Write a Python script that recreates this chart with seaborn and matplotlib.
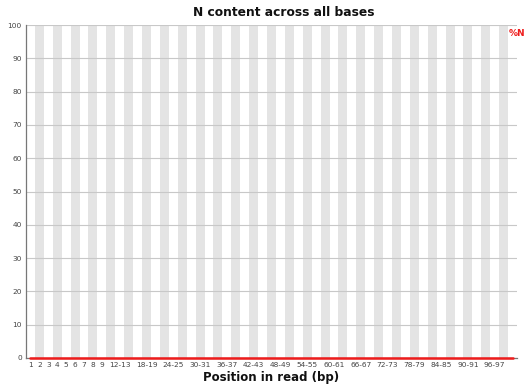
import numpy as np
import pandas as pd
import matplotlib
matplotlib.use("Agg")
import matplotlib.pyplot as plt
import seaborn as sns

sns.set_theme(style="white")
plt.rcParams["font.family"] = ["DejaVu Sans"]

# Read position groups (single bases, then paired bins)
positions = ["1", "2", "3", "4", "5", "6", "7", "8", "9",
             "10-11", "12-13", "14-15", "16-17", "18-19", "20-21", "22-23",
             "24-25", "26-27", "28-29", "30-31", "32-33", "34-35", "36-37",
             "38-39", "40-41", "42-43", "44-45", "46-47", "48-49", "50-51",
             "52-53", "54-55", "56-57", "58-59", "60-61", "62-63", "64-65",
             "66-67", "68-69", "70-71", "72-73", "74-75", "76-77", "78-79",
             "80-81", "82-83", "84-85", "86-87", "88-89", "90-91", "92-93",
             "94-95", "96-97", "98-99", "100-101"]

# Percentage of N calls at each position
n_percent = [0.0, 0.0, 0.0, 0.0, 0.0, 0.0, 0.0, 0.0, 0.0,
             0.0, 0.0, 0.0, 0.0, 0.0, 0.0, 0.0, 0.0, 0.0, 0.0,
             0.0, 0.0, 0.0, 0.0, 0.0, 0.0, 0.0, 0.0, 0.0, 0.0,
             0.0, 0.0, 0.0, 0.0, 0.0, 0.0, 0.0, 0.0, 0.0, 0.0,
             0.0, 0.0, 0.0, 0.0, 0.0, 0.0, 0.0, 0.0, 0.0, 0.0,
             0.0, 0.0, 0.0, 0.0, 0.0, 0.0]

# Positions that get a tick label on the x axis
shown_labels = ["1", "2", "3", "4", "5", "6", "7", "8", "9",
                "12-13", "18-19", "24-25", "30-31", "36-37", "42-43",
                "48-49", "54-55", "60-61", "66-67", "72-73", "78-79",
                "84-85", "90-91", "96-97"]

y_ticks = [0, 10, 20, 30, 40, 50, 60, 70, 80, 90, 100]

df = pd.DataFrame({"position": positions, "n_percent": n_percent})
df["idx"] = np.arange(len(df)) + 0.5

fig = plt.figure(figsize=(5.26, 3.87), dpi=100)
ax = fig.add_axes([26 / 526, 1 - 358 / 387, 491 / 526, 333 / 387])

# Alternating background stripes per position group
for i in range(len(positions)):
    if i % 2 == 1:
        ax.axvspan(i, i + 1, color="#e4e4e4", lw=0, zorder=0)

for t in y_ticks:
    ax.axhline(t, color="#c8c8c8", lw=0.8, zorder=1)

sns.lineplot(data=df, x="idx", y="n_percent", color="#ee1c1c", lw=1.8,
             ax=ax, legend=False)
for ln in ax.get_lines()[-1:]:
    ln.set_clip_on(False)
    ln.set_zorder(5)

ax.set_xlim(0, len(positions))
ax.set_ylim(0, 100)
ax.set_yticks(y_ticks)
ax.set_yticklabels([str(t) for t in y_ticks], fontsize=5.3, color="#444444")
tick_pos = [positions.index(p) + 0.5 for p in shown_labels]
ax.set_xticks(tick_pos)
ax.set_xticklabels(shown_labels, fontsize=5.3, color="#444444")
ax.tick_params(axis="both", length=0, pad=3)

for side in ["top", "right"]:
    ax.spines[side].set_visible(False)
for side in ["left", "bottom"]:
    ax.spines[side].set_color("#777777")
    ax.spines[side].set_linewidth(0.9)
    ax.spines[side].set_zorder(2)

ax.set_xlabel("Position in read (bp)", fontsize=8.5, fontweight="bold",
              color="#111111", labelpad=2)
ax.set_ylabel("")
fig.text(284 / 526, 1 - 13 / 387, "N content across all bases", fontsize=8.8,
         fontweight="bold", color="#111111", ha="center", va="center")
fig.text(525 / 526, 1 - 34 / 387, "%N", fontsize=6.5, fontweight="bold",
         color="#ee1c1c", ha="right", va="center")

fig.savefig("out.png", dpi=100)
